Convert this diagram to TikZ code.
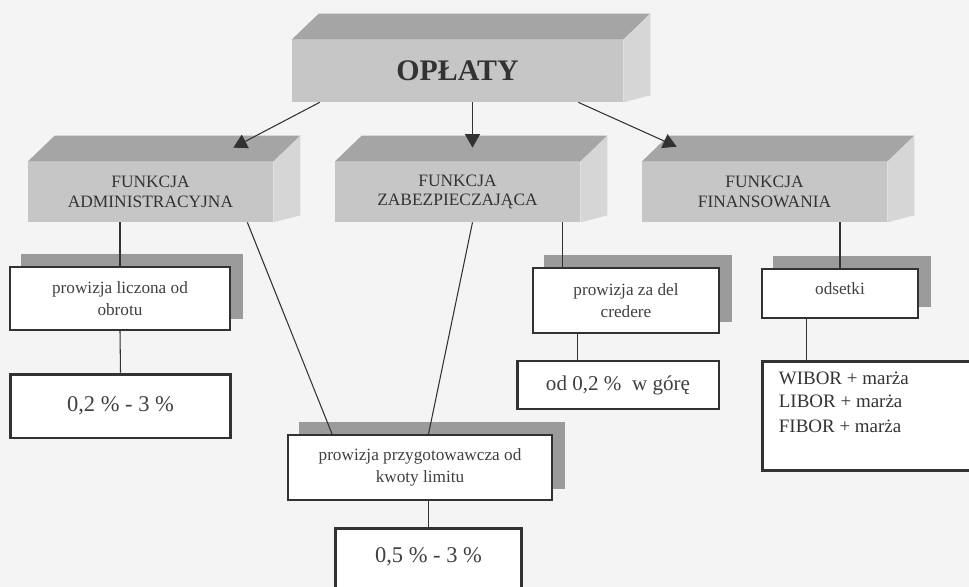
\documentclass[tikz,border=0pt]{standalone}
\usepackage{fontspec}
\setmainfont{Liberation Serif}
\usepackage{xcolor}
\usepackage{tikz}
\usetikzlibrary{arrows.meta, backgrounds}
\definecolor{tlo}{RGB}{244,244,244}
\definecolor{gora}{RGB}{165,165,165}
\definecolor{przod}{RGB}{198,198,198}
\definecolor{bok}{RGB}{214,214,214}
\definecolor{szary}{RGB}{155,155,155}
\definecolor{ciemny}{RGB}{50,50,50}

\begin{document}
\begin{tikzpicture}[
    x=0.02cm, y=-0.02cm,
    kostka/.style={fill=przod, inner sep=0pt, minimum width=4.9cm, minimum height=1.2cm,
                   align=center, text=black!80, font=\fontsize{9.9}{11.3}\selectfont},
    ramka/.style={draw=ciemny, line width=1.1pt, fill=white, inner sep=0pt, align=center,
                  text=black!75, font=\fontsize{9.8}{12.3}\selectfont},
    gruba/.style={ramka, line width=1.7pt, font=\fontsize{12.8}{15}\selectfont},
    cien/.style={fill=szary},
    linia/.style={draw=ciemny, line width=0.6pt},
    strzalka/.style={linia, -{Triangle[length=2.7mm, width=3mm]}}
  ]
    \useasboundingbox (0,0) rectangle (969,587);
    % bryly z gorna i boczna sciana
    \node[kostka, minimum width=6.62cm, minimum height=1.24cm,
          font=\bfseries\fontsize{17}{19}\selectfont] (opl) at (457.5,71) {OPŁATY};
    \node[kostka] (adm) at (150.5,192) {FUNKCJA\\ADMINISTRACYJNA};
    \node[kostka] (zab) at (457.5,192) {FUNKCJA\\ZABEZPIECZAJĄCA};
    \node[kostka] (fin) at (764.5,192) {FUNKCJA\\FINANSOWANIA};
    \foreach \k in {opl, adm, zab, fin} {
      \fill[gora] (\k.north west) -- ++(0.54cm,0.52cm) -- ([shift={(0.54cm,0.52cm)}]\k.north east)
        -- (\k.north east) -- cycle;
      \fill[bok] (\k.north east) -- ++(0.54cm,0.52cm) -- ([shift={(0.54cm,0.14cm)}]\k.south east)
        -- (\k.south east) -- cycle;
    }
    % ramki
    \node[ramka, minimum width=4.4cm, minimum height=1.26cm] (lic) at (120,298.5) {prowizja liczona od\\obrotu};
    \node[gruba, minimum width=4.42cm, minimum height=1.28cm] (pr02) at (120.5,406) {0,2 \% - 3 \%};
    \node[ramka, minimum width=5.28cm, minimum height=1.3cm] (przyg) at (420,467.5) {prowizja przygotowawcza od\\kwoty limitu};
    \node[gruba, minimum width=3.74cm, minimum height=1.44cm, text height=0.4cm, text depth=0.45cm] (pr05) at (428.5,564) {0,5 \% - 3 \%};
    \node[ramka, minimum width=3.72cm, minimum height=1.3cm] (del) at (626,300.5) {prowizja za del\\credere};
    \node[gruba, minimum width=4.04cm, minimum height=0.96cm, font=\fontsize{12}{14}\selectfont] (gore) at (618,385) {od 0,2 \%\ \ w górę};
    \node[ramka, minimum width=3.12cm, minimum height=0.98cm, text depth=0.2cm] (ods) at (840,293.5) {odsetki};
    \node[gruba, minimum width=4.26cm, minimum height=2.2cm] (wib) at (868.5,416) {};
    \node[anchor=north west, inner sep=0pt, align=left, text=black!80, font=\fontsize{10.8}{13}\selectfont]
      (wibtekst) at ([shift={(0.36cm,-0.24cm)}]wib.north west) {WIBOR + marża\\LIBOR + marża\\[0.05cm]FIBOR + marża};
    \begin{scope}[on background layer]
      \fill[tlo] (0,0) rectangle (969,587);
      \foreach \p in {lic, przyg, del, ods}
        \fill[cien] ([shift={(0.24cm,0.24cm)}]\p.south west) rectangle ([shift={(0.24cm,0.24cm)}]\p.north east);
    \end{scope}
    % strzalki
    \coordinate (grotAdm) at ([shift={(-0.8cm,0.28cm)}]adm.north east);
    \coordinate (grotZab) at ([shift={(0.3cm,0.28cm)}]zab.north);
    \coordinate (grotFin) at ([shift={(0.7cm,0.3cm)}]fin.north west);
    \draw[strzalka] ([xshift=0.56cm]opl.south west) -- (grotAdm);
    \draw[strzalka] (opl.south -| grotZab) -- (grotZab);
    \draw[strzalka] ([xshift=-0.9cm]opl.south east) -- (grotFin);
    % linie
    \draw[linia] (adm.south -| lic.north) -- (lic.north);
    \draw[linia] (lic.south) -- (pr02.north);
    \draw[linia] ([xshift=-0.52cm]adm.south east) -- ([xshift=0.9cm]przyg.north west);
    \draw[linia] ([xshift=0.3cm]zab.south) -- (przyg.north -| pr05.north);
    \draw[linia] (przyg.south -| pr05.north) -- (pr05.north);
    \coordinate (delWej) at ([xshift=0.6cm]del.north west);
    \draw[linia] (zab.south -| delWej) -- (delWej);
    \coordinate (delWyj) at ([xshift=0.9cm]del.south west);
    \draw[linia] (delWyj) -- (delWyj |- gore.north);
    \draw[linia] (fin.south -| ods.north) -- (ods.north);
    \coordinate (odsWyj) at ([xshift=0.9cm]ods.south west);
    \draw[linia] (odsWyj) -- (odsWyj |- wib.north);
  \end{tikzpicture}
\end{document}
